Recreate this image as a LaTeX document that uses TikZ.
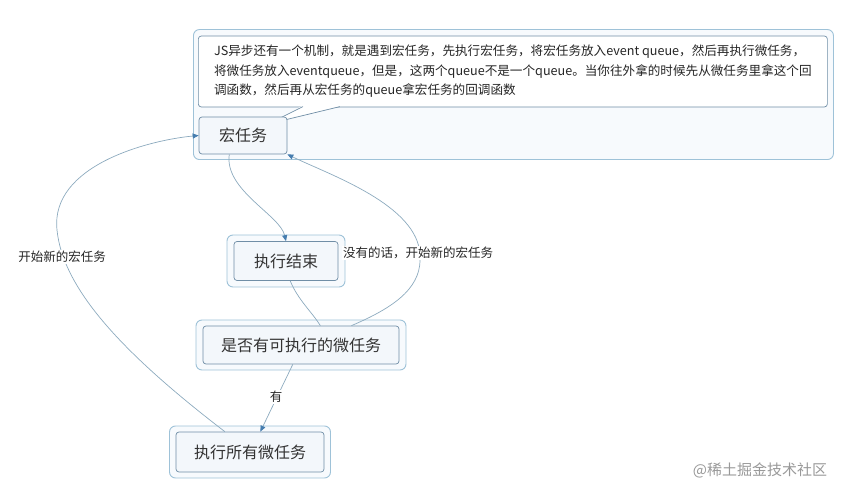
\documentclass[tikz,border=0pt]{standalone}
\usepackage{fontspec}
\setmainfont{Noto Sans CJK SC}
\usepackage{tikz}
\usetikzlibrary{arrows.meta,positioning}
\definecolor{grpline}{RGB}{158,194,216}
\definecolor{grpfill}{RGB}{247,250,253}
\definecolor{boxline}{RGB}{112,142,166}
\definecolor{boxfill}{RGB}{243,247,251}
\definecolor{linkline}{RGB}{140,170,190}
\definecolor{tipblue}{RGB}{70,125,175}

\begin{document}
\begin{tikzpicture}[
    x=1pt, y=1pt,
    outbox/.style={rectangle, draw=grpline, fill=grpfill, rounded corners=6pt, line width=0.9pt},
    inbox/.style={rectangle, draw=boxline, fill=boxfill, rounded corners=3pt, line width=0.7pt, font=\fontsize{16}{18}\selectfont, text=black!80},
    note/.style={rectangle, draw=boxline, fill=white, rounded corners=3pt, line width=0.7pt, font=\fontsize{12.6}{19.5}\selectfont, text=black!85, align=left, inner xsep=13pt},
    link/.style={draw=linkline, line width=0.7pt},
    arrow/.style={link, -{Triangle[length=6pt, width=5pt, fill=tipblue, color=tipblue]}},
    tag/.style={fill=white, inner sep=1pt, font=\fontsize{12.5}{14}\selectfont, text=black!85}
]
\useasboundingbox (0,0) rectangle (851,490);

% Macro task group
\node[outbox, anchor=south west, minimum width=640, minimum height=130] (group) at (193,330) {};
\node[note, anchor=west, minimum width=629, minimum height=71] (note) at (198,418.5) {JS异步还有一个机制，就是遇到宏任务，先执行宏任务，将宏任务放入event queue，然后再执行微任务，\\将微任务放入eventqueue，但是，这两个queue不是一个queue。当你往外拿的时候先从微任务里拿这个回\\调函数，然后再从宏任务的queue拿宏任务的回调函数};
\fill[white] (302,384) -- (268,366) -- (341,384) -- cycle;
\draw[boxline, line width=0.7pt] (303,383.4) -- (268,366) -- (340,383.4);
\node[inbox, minimum width=88, minimum height=37] (macro) at (243,354.5) {宏任务};

% Steps
\node[outbox, minimum width=118, minimum height=52] (endgrp) at (286,229) {};
\node[inbox, minimum width=104, minimum height=39] (finish) at (286,229) {执行结束};
\node[outbox, minimum width=210, minimum height=50] (checkgrp) at (301,145) {};
\node[inbox, minimum width=196, minimum height=38] (check) at (301,145) {是否有可执行的微任务};
\node[outbox, minimum width=161, minimum height=52] (rungrp) at (250,38) {};
\node[inbox, minimum width=148, minimum height=40] (runall) at (250,38) {执行所有微任务};

% Links
\coordinate (c1) at (57,260);
\coordinate (c2) at (420,235);
\draw[arrow] (macro.234) .. controls (224,300) and (280,275) .. (finish.north);
\draw[link] (finish.-78) .. controls (298,190) and (312,178) .. (check.45);
\draw[arrow] (check.21) .. controls (400,185) and (422,205) .. (c2) .. controls (418,285) and (330,315) .. (macro.south east);
\draw[arrow] (check.-113) -- (runall.63);
\draw[link] (runall.141) .. controls (125,135) and (63,200) .. (c1);
\draw[arrow] (c1) .. controls (50,325) and (150,350) .. (macro.west);

% Labels
\node[tag] (lnew) at (62,233) {开始新的宏任务};
\node[tag] (lnone) at (418,237) {没有的话，开始新的宏任务};
\node[tag] (lyes) at (276,93) {有};

% Watermark
\node[font=\fontsize{15}{17}\selectfont, text=black!40] (mark) at (760,20) {@稀土掘金技术社区};

\end{tikzpicture}
\end{document}
